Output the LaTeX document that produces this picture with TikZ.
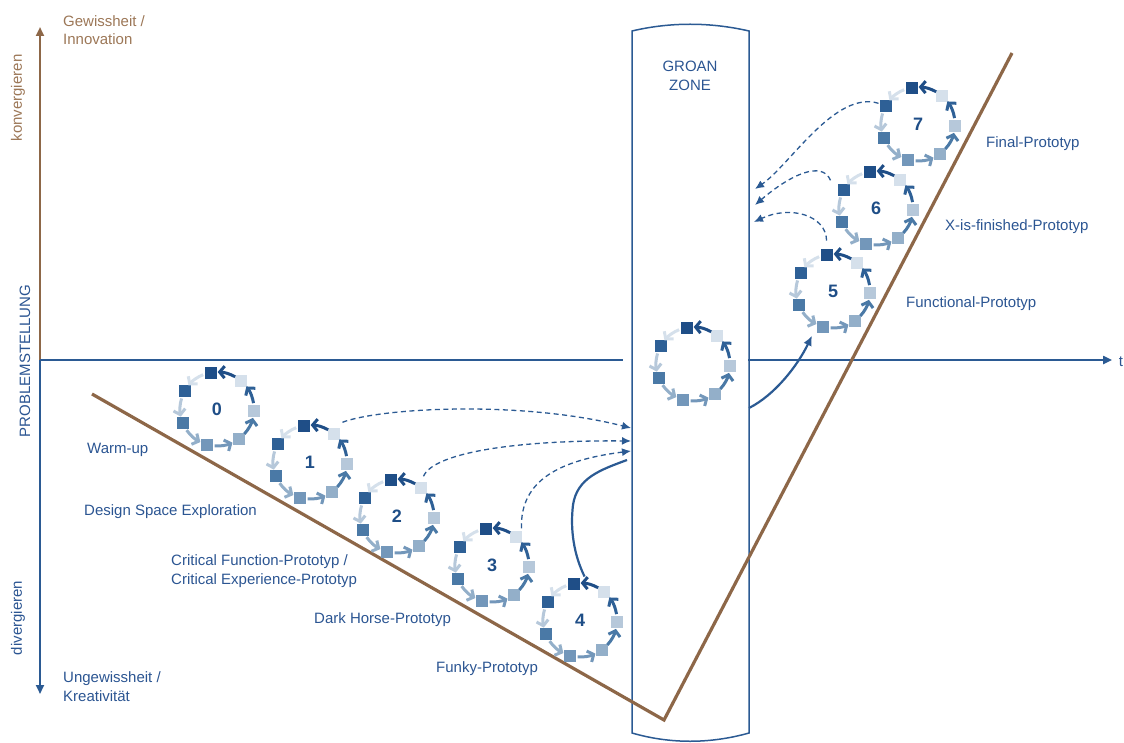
\documentclass[tikz,border=0pt]{standalone}
\usepackage{fontspec}
\setmainfont{Liberation Sans}
\usetikzlibrary{arrows.meta,calc}
\definecolor{sqa}{HTML}{1F4E87}
\definecolor{sqb}{HTML}{2E6096}
\definecolor{sqc}{HTML}{4A79A6}
\definecolor{sqd}{HTML}{7397BA}
\definecolor{sqe}{HTML}{93AFC9}
\definecolor{sqf}{HTML}{B6C8DA}
\definecolor{sqg}{HTML}{D5E0EB}
\definecolor{txtblue}{HTML}{2B5592}
\definecolor{lineblue}{HTML}{2B5A93}
\definecolor{brn}{HTML}{8D6748}
\definecolor{brntxt}{HTML}{9C7757}
\tikzset{
  sq/.style={rectangle,minimum size=12pt,inner sep=0pt,draw=none},
  cyar/.style={line width=3pt,-{Straight Barb[length=5pt,width=12pt]}},
  num/.style={font=\fontsize{18}{20}\selectfont\bfseries,text=sqa,inner sep=0pt},
  lbl/.style={font=\fontsize{15}{18.5}\selectfont,text=txtblue,inner sep=0pt,anchor=base west,align=left},
  rlbl/.style={font=\fontsize{15}{18}\selectfont,inner sep=0pt,rotate=90},
  dasharr/.style={draw=lineblue,line width=1.3pt,dash pattern=on 5pt off 3.5pt,-{Latex[length=9pt,width=8pt]}},
  solline/.style={draw=lineblue,line width=2.2pt},
  axisline/.style={line width=2.4pt},
  axtip/.style={-{Triangle[length=9pt,width=8pt]}},
}
\newcommand\drawcycle[4]{%
  \coordinate (#1) at (#2,#3);
  \node[num] (#1n) at (#1) {#4};
  \foreach \k/\col in {0/sqa,1/sqb,2/sqc,3/sqd,4/sqe,5/sqf,6/sqg}{%
    \node[sq,fill=\col] (#1s\k) at ($(#1)+({-100-\k*360/7}:37)$) {};
  }
  \foreach \k/\col in {0/sqg,1/sqf,2/sqe,3/sqd,4/sqc,5/sqb,6/sqa}{%
    \pgfmathsetmacro\aa{-100-\k*360/7-12}%
    \pgfmathsetmacro\bb{-100-(\k+1)*360/7+11}%
    \draw[cyar,draw=\col] ($(#1)+(\aa:37)$) arc[start angle=\aa,end angle=\bb,radius=37];
  }
}
\begin{document}
\begin{tikzpicture}[x=1pt,y=-1pt]
\useasboundingbox (0,0) rectangle (1124,743);
% groan zone
\draw[draw=lineblue,line width=1.5pt] (632,31) .. controls (670,22) and (710,22) .. (749,31) -- (749,733) .. controls (710,744) and (670,744) .. (632,733) -- cycle;
\node[font=\fontsize{15}{19}\selectfont,text=txtblue,align=center,inner sep=0pt] (groan) at (690,76) {GROAN\\ZONE};
% axes
\coordinate (o) at (40,360);
\coordinate (ytop) at (40,27);
\coordinate (ybot) at (40,694);
\coordinate (xl) at (623,360);
\coordinate (xr0) at (748,360);
\coordinate (xr) at (1112,360);
\draw[axisline,axtip,draw=brn,fill=brn] (o) -- (ytop);
\draw[axisline,axtip,draw=lineblue,fill=lineblue] (o) -- (ybot);
\draw[axisline,draw=lineblue] (o) -- (xl);
\draw[axisline,axtip,draw=lineblue,fill=lineblue] (xr0) -- (xr);
\node[font=\fontsize{15}{18}\selectfont,text=txtblue,inner sep=0pt] (t) at (1121,362) {t};
% brown V
\coordinate (v1) at (92,394);
\coordinate (v2) at (664,720);
\coordinate (v3) at (1012,53);
\draw[draw=brn,line width=3.2pt] (v1) -- (v2) -- (v3);
% axis labels
\node[lbl,text=brntxt] (gew) at (63,45) {Gewissheit /\\Innovation};
\node[lbl] (ungew) at (63,701) {Ungewissheit /\\Kreativität};
\node[rlbl,text=brntxt] (konv) at (18,98) {konvergieren};
\node[rlbl,text=txtblue] (prob) at (25,361) {PROBLEMSTELLUNG};
\node[rlbl,text=txtblue] (div) at (18,618) {divergieren};
% phase labels
\node[lbl] (l0) at (87,453) {Warm-up};
\node[lbl] (l1) at (84,515) {Design Space Exploration};
\node[lbl] (l2) at (171,584) {Critical Function-Prototyp /\\Critical Experience-Prototyp};
\node[lbl] (l3) at (314,623) {Dark Horse-Prototyp};
\node[lbl] (l4) at (436,672) {Funky-Prototyp};
\node[lbl] (l5) at (906,308) {Functional-Prototyp};
\node[lbl] (l6) at (945,231) {X-is-finished-Prototyp};
\node[lbl] (l7) at (986,148) {Final-Prototyp};
% cycles
\drawcycle{c0}{217}{409}{0}
\drawcycle{c1}{310}{462}{1}
\drawcycle{c2}{397}{516}{2}
\drawcycle{c3}{492}{565}{3}
\drawcycle{c4}{580}{620}{4}
\drawcycle{cg}{693}{364}{}
\drawcycle{c5}{833}{291}{5}
\drawcycle{c6}{876}{208}{6}
\drawcycle{c7}{918}{124}{7}
% connectors into groan zone
\coordinate (g1) at (631,428);
\coordinate (g2) at (631,441);
\coordinate (g3) at (631,451);
\coordinate (g4) at (627,460);
\draw[dasharr] ($(c1s6)+(8,-12)$) .. controls (380,408) and (520,400) .. (g1);
\draw[dasharr] ($(c2s6)+(2,-12)$) .. controls (434,452) and (520,440) .. (g2);
\draw[dasharr] ($(c3s6)+(5,-9)$) .. controls (520,480) and (560,460) .. (g3);
\draw[solline] ($(c4s0)+(11,-7)$) .. controls (574,555) and (570,530) .. (573,505) .. controls (577,478) and (600,470) .. (g4);
% out of groan zone
\coordinate (gr) at (749,408);
\coordinate (h7) at (755,189);
\coordinate (h6) at (755,205);
\coordinate (h5) at (754,222);
\draw[solline,-{Latex[length=10pt,width=9pt]}] (gr) .. controls (775,395) and (798,365) .. ($(c5s3)+(-11,9)$);
\draw[dasharr] ($(c7s1)+(-7,-3)$) .. controls (835,90) and (790,165) .. (h7);
\draw[dasharr] ($(c6s1)+(-13,-10)$) .. controls (822,160) and (790,175) .. (h6);
\draw[dasharr] ($(c5s0)+(0,-14)$) .. controls (826,215) and (790,205) .. (h5);
\end{tikzpicture}
\end{document}
